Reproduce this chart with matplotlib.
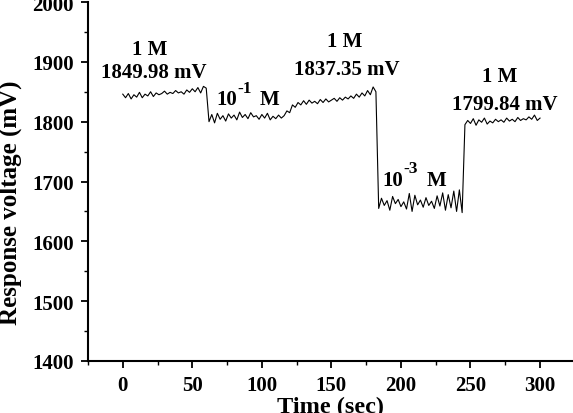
# -*- coding: utf-8 -*-

"""Response voltage vs time for step changes in concentration."""

import numpy as np
import matplotlib
matplotlib.use('Agg')
import matplotlib.pyplot as plt
import matplotlib.ticker as ticker

# Readings every 2 s, one list per concentration step
STEP_1M_A = [1846, 1840, 1847, 1838, 1845, 1841, 1849, 1840, 1846, 1843, 1850,
             1842, 1848, 1845, 1847, 1851, 1846, 1849, 1847, 1852, 1848, 1850,
             1846, 1853, 1849, 1855, 1850, 1857, 1848, 1859, 1856]
STEP_1E1 = [1800, 1812, 1798, 1814, 1804, 1810, 1801, 1813, 1806, 1811, 1803,
            1816, 1807, 1812, 1805, 1815, 1808, 1810, 1804, 1812, 1806, 1814,
            1803, 1809, 1805, 1811, 1806, 1810, 1818, 1815]
STEP_1M_B = [1828, 1824, 1832, 1828, 1835, 1829, 1836, 1831, 1834, 1830, 1837,
             1832, 1838, 1833, 1836, 1839, 1834, 1840, 1836, 1841, 1838, 1843,
             1839, 1846, 1841, 1848, 1843, 1852, 1845, 1858, 1850]
STEP_1E3 = [1655, 1672, 1660, 1668, 1652, 1675, 1663, 1670, 1658, 1666, 1654,
            1680, 1650, 1677, 1661, 1669, 1657, 1673, 1660, 1667, 1655, 1676,
            1659, 1681, 1652, 1678, 1656, 1684, 1650, 1686, 1648]
STEP_1M_C = [1795, 1802, 1797, 1805, 1794, 1803, 1799, 1806, 1796, 1801, 1798,
             1804, 1800, 1803, 1799, 1806, 1801, 1804, 1800, 1807, 1802, 1805,
             1803, 1808, 1804, 1811, 1802, 1806]

X_TICKS = [0, 50, 100, 150, 200, 250, 300]
Y_TICKS = [1400, 1500, 1600, 1700, 1800, 1900, 2000]

# (text, x, y) in data units
LABELS = [
    ("1 M", 19.6, 1922),
    ("1849.98 mV", 22.5, 1883),
    ("1 M", 159.5, 1935),
    ("1837.35 mV", 160.9, 1888),
    ("1 M", 271.3, 1876),
    ("1799.84 mV", 274.5, 1830),
]
# (exponent, x of right edge of "10", y, raise in points, gap to "M" in points)
POWER_LABELS = [
    ("-1", 82.2, 1838, 8, 16),
    ("-3", 201.5, 1703, 8.5, 17),
]

plt.rcParams['font.family'] = ['Liberation Serif', 'DejaVu Serif']
plt.rcParams['font.weight'] = 'bold'

voltage = STEP_1M_A + STEP_1E1 + STEP_1M_B + STEP_1E3 + STEP_1M_C
time = np.arange(len(voltage)) * 2

fig = plt.figure(figsize=(5.73, 4.14), dpi=100)
ax = fig.add_axes([88 / 573, 52 / 414, 485 / 573, 359 / 414])
ax.plot(time, voltage, color='black', lw=0.8)

ax.set_xlim(-25, 323.7)
ax.set_ylim(1400, 2000)
ax.set_xticks(X_TICKS)
ax.set_yticks(Y_TICKS)
ax.xaxis.set_minor_locator(ticker.MultipleLocator(25))
ax.yaxis.set_minor_locator(ticker.MultipleLocator(50))
ax.tick_params(which='major', direction='out', length=5, width=1.3, labelsize=15, pad=5)
ax.tick_params(which='minor', direction='out', length=3, width=1.0)
for lbl in ax.get_xticklabels() + ax.get_yticklabels():
    lbl.set_fontweight('bold')

for side in ('top', 'right'):
    ax.spines[side].set_visible(False)
for side in ('left', 'bottom'):
    ax.spines[side].set_linewidth(1.5)

ax.set_xlabel("Time (sec)", fontsize=17.5, fontweight='bold', labelpad=1)
ax.set_ylabel("Response voltage (mV)", fontsize=18, fontweight='bold')
ax.yaxis.set_label_coords(-0.136, 0.443)

for text, x, y in LABELS:
    ax.text(x, y, text, fontsize=15, fontweight='bold', ha='center', va='center')

for power, x, y, lift, gap in POWER_LABELS:
    ax.text(x, y, "10", fontsize=15, fontweight='bold', ha='right', va='center')
    ax.annotate(power, (x, y), xytext=(0.3, lift), textcoords='offset points',
                fontsize=12.5, fontweight='bold', ha='left', va='center')
    ax.annotate("M", (x, y), xytext=(gap, 0), textcoords='offset points',
                fontsize=15, fontweight='bold', ha='left', va='center')

fig.savefig('out.png', dpi=100)
